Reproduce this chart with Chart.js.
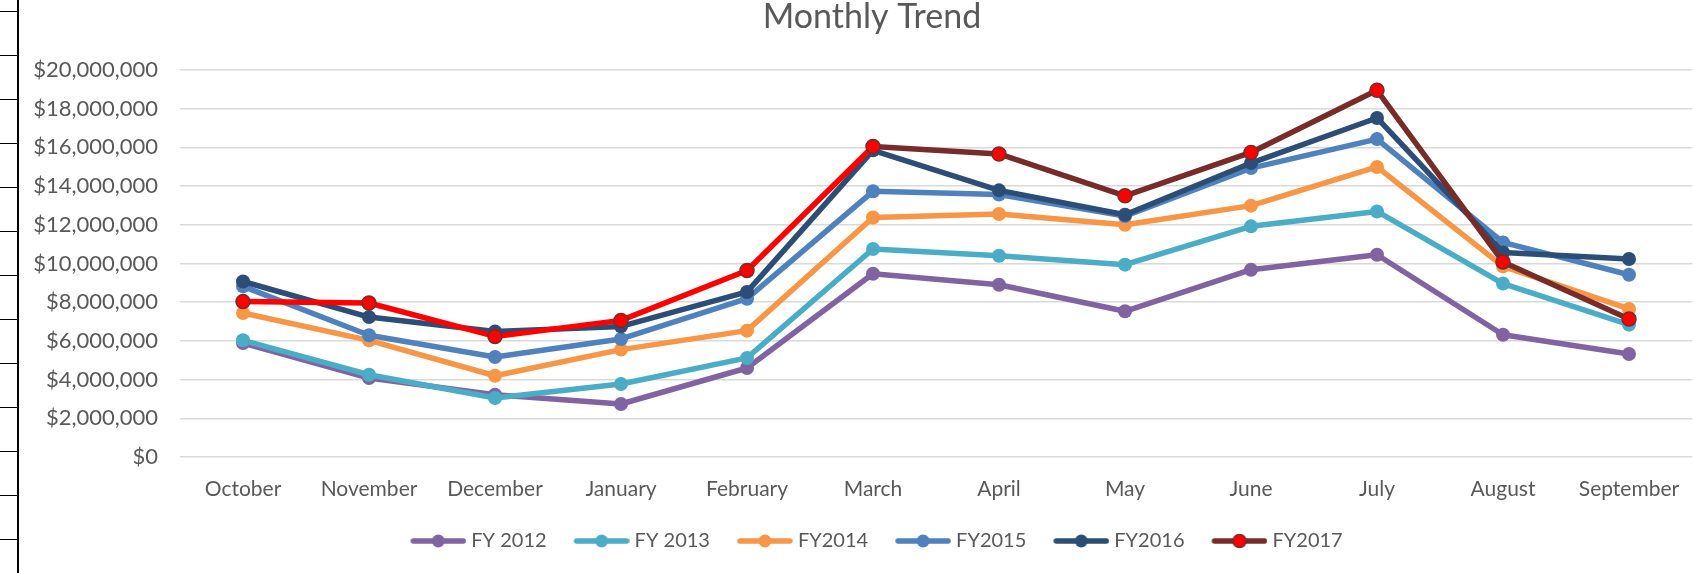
<!DOCTYPE html>
<html>
<head>
<meta charset="utf-8">
<script src="https://cdn.jsdelivr.net/npm/chart.js@4/dist/chart.umd.min.js"></script>
<style>
  html, body { margin: 0; padding: 0; background: #fff; overflow: hidden; }
  body { width: 1693px; height: 573px; position: relative; }
  /* spreadsheet row headers peeking in on the left */
  #rows {
    position: absolute; left: 0; top: 0; width: 17px; height: 573px;
    border-right: 2px solid #000;
    background: repeating-linear-gradient(to bottom, transparent 0, transparent 11px, #000 11px, #000 12px, transparent 12px, transparent 44px);
    background-position: 0 0;
  }
  #myChart { position: absolute; left: 19px; top: 0; }
</style>
</head>
<body>
<div id="rows"></div>
<canvas id="myChart" width="1706" height="573"></canvas>
<script>
const months = ["October", "November", "December", "January", "February", "March",
                "April", "May", "June", "July", "August", "September"];

const fy2012 = [5890000, 4080000, 3220000, 2740000, 4600000, 9470000, 8900000, 7530000, 9680000, 10450000, 6320000, 5320000];
const fy2013 = [6030000, 4250000, 3050000, 3770000, 5120000, 10750000, 10400000, 9940000, 11920000, 12690000, 8960000, 6840000];
const fy2014 = [7440000, 6030000, 4200000, 5550000, 6530000, 12380000, 12560000, 12000000, 12990000, 14990000, 9850000, 7650000];
const fy2015 = [8820000, 6290000, 5170000, 6100000, 8180000, 13730000, 13560000, 12450000, 14930000, 16430000, 11090000, 9420000];
const fy2016 = [9070000, 7230000, 6490000, 6750000, 8530000, 15850000, 13780000, 12520000, 15190000, 17520000, 10570000, 10230000];
const fy2017 = [8030000, 7960000, 6230000, 7060000, 9640000, 16050000, 15660000, 13500000, 15740000, 18950000, 10080000, 7130000];

const seriesNames = ["FY 2012", "FY 2013", "FY2014", "FY2015", "FY2016", "FY2017"];
const seriesData = [fy2012, fy2013, fy2014, fy2015, fy2016, fy2017];
const lineColors = ["#8064A2", "#4BACC6", "#F79646", "#4F81BD", "#2C4D75", "#772C2A"];
const dotColors  = ["#8064A2", "#4BACC6", "#F79646", "#4F81BD", "#2C4D75", "#FF0000"];

const FONT = "Lato";
const GREY = "#595959";

// legend swatch: short thick line with a dot in the middle.
// the image is wider than the swatch so it sits a bit right of the item start
function swatch(lineColor, dotColor) {
  const c = document.createElement("canvas");
  c.width = 70; c.height = 18;
  const g = c.getContext("2d");
  g.strokeStyle = lineColor;
  g.lineWidth = 5.5;
  g.lineCap = "round";
  g.beginPath(); g.moveTo(17, 9); g.lineTo(67, 9); g.stroke();
  g.beginPath(); g.arc(42, 9, 6.5, 0, Math.PI * 2);
  g.fillStyle = dotColor; g.fill();
  if (dotColor !== lineColor) { g.lineWidth = 1.5; g.strokeStyle = lineColor; g.stroke(); }
  return c;
}

const datasets = seriesNames.map((name, i) => {
  const ds = {
    label: name,
    data: seriesData[i],
    borderColor: lineColors[i],
    backgroundColor: dotColors[i],
    borderWidth: 5.5,
    borderJoinStyle: "round",
    pointRadius: 7,
    pointBackgroundColor: dotColors[i],
    pointBorderColor: dotColors[i],
    pointBorderWidth: 0,
    tension: 0,
    order: 5 - i
  };
  if (i === 5) {
    ds.pointRadius = 7;
    ds.pointBorderColor = "#772C2A";
    ds.pointBorderWidth = 1.5;
    ds.segment = { borderColor: (ctx) => ctx.p0DataIndex < 5 ? "#FF0000" : "#772C2A" };
  }
  return ds;
});

const ctx = document.getElementById("myChart").getContext("2d");
const myChart = new Chart(ctx, {
  type: "line",
  data: { labels: months, datasets },
  options: {
    responsive: false,
    animation: false,
    layout: { padding: { left: 0, right: 0, top: 0, bottom: 12 } },
    plugins: {
      title: {
        display: true,
        text: "Monthly Trend",
        color: GREY,
        font: { family: FONT, size: 34, weight: "normal", lineHeight: 1 },
        padding: { top: 0, bottom: 36 }
      },
      legend: {
        position: "bottom",
        labels: {
          color: GREY,
          font: { family: FONT, size: 20 },
          usePointStyle: true,
          pointStyleWidth: 60,
          padding: 18,
          sort: (a, b) => a.datasetIndex - b.datasetIndex,
          generateLabels: (chart) => {
            const items = Chart.defaults.plugins.legend.labels.generateLabels(chart);
            items.forEach((it) => {
              it.pointStyle = swatch(lineColors[it.datasetIndex], dotColors[it.datasetIndex]);
            });
            return items;
          }
        }
      },
      tooltip: { enabled: false }
    },
    scales: {
      x: {
        offset: true,
        grid: { display: false, drawTicks: false },
        border: { display: false },
        ticks: { color: GREY, font: { family: FONT, size: 21 }, padding: 20, maxRotation: 0, autoSkip: false },
        afterFit: (s) => { s.height = 56; }
      },
      y: {
        min: 0,
        max: 20000000,
        grid: { color: "#D9D9D9", lineWidth: 1.5, drawTicks: false },
        border: { display: false },
        ticks: {
          stepSize: 2000000,
          padding: 22,
          color: GREY,
          font: { family: FONT, size: 22 },
          callback: (v) => "$" + v.toLocaleString("en-US")
        },
        afterFit: (s) => { s.width = 161; }
      },
      y2: {
        position: "right",
        grid: { display: false },
        border: { display: false },
        ticks: { display: false },
        afterFit: (s) => { s.width = 33; }
      }
    }
  }
});
</script>
</body>
</html>
